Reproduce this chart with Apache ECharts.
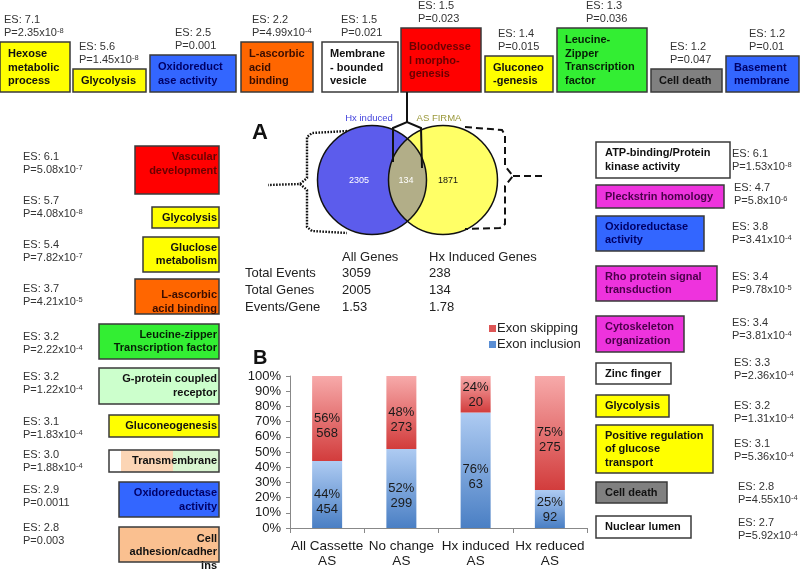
<!DOCTYPE html>
<html><head><meta charset="utf-8">
<script src="https://cdn.jsdelivr.net/npm/echarts@6/dist/echarts.min.js"></script>
<style>html,body{margin:0;padding:0;background:#fff}#c{width:800px;height:569px}</style>
</head><body><div id="c"></div>
<script>
// ---------- data ----------
const categories = ['All Cassette\nAS', 'No change\nAS', 'Hx induced\nAS', 'Hx reduced\nAS'];
const inclusionPct = [44, 52, 76, 25];
const skippingPct = [56, 48, 24, 75];
const inclusionCount = [454, 299, 63, 92];
const skippingCount = [568, 273, 20, 275];
const seriesNames = ['Exon skipping', 'Exon inclusion'];

const vennSets = ['Hx induced', 'AS FIRMA'];
const vennCounts = [2305, 134, 1871];

const tableHeaders = ['All Genes', 'Hx Induced Genes'];
const tableRows = ['Total Events', 'Total Genes', 'Events/Gene'];
const allGenesCol = ['3059', '2005', '1.53'];
const hxGenesCol = ['238', '134', '1.78'];

const topTerms = ['Hexose\nmetabolic\nprocess', 'Glycolysis', 'Oxidoreduct\nase activity', 'L-ascorbic\nacid\nbinding', 'Membrane\n- bounded\nvesicle', 'Bloodvesse\nl morpho-\ngenesis', 'Gluconeo\n-genesis', 'Leucine-\nZipper\nTranscription\nfactor', 'Cell death', 'Basement\nmembrane'];
const topES = ['7.1', '5.6', '2.5', '2.2', '1.5', '1.5', '1.4', '1.3', '1.2', '1.2'];
const topP = ['2.35x10^-8', '1.45x10^-8', '0.001', '4.99x10^-4', '0.021', '0.023', '0.015', '0.036', '0.047', '0.01'];

const leftTerms = ['Vascular\ndevelopment', 'Glycolysis', 'Gluclose\nmetabolism', 'L-ascorbic\nacid binding', 'Leucine-zipper\nTranscription factor', 'G-protein coupled\nreceptor', 'Gluconeogenesis', 'Transmembrane', 'Oxidoreductase\nactivity', 'Cell\nadhesion/cadher\nins'];
const leftES = ['6.1', '5.7', '5.4', '3.7', '3.2', '3.2', '3.1', '3.0', '2.9', '2.8'];
const leftP = ['5.08x10^-7', '4.08x10^-8', '7.82x10^-7', '4.21x10^-5', '2.22x10^-4', '1.22x10^-4', '1.83x10^-4', '1.88x10^-4', '0.0011', '0.003'];

const rightTerms = ['ATP-binding/Protein\nkinase activity', 'Pleckstrin homology', 'Oxidoreductase\nactivity', 'Rho protein signal\ntransduction', 'Cytoskeleton\norganization', 'Zinc finger', 'Glycolysis', 'Positive regulation\nof glucose\ntransport', 'Cell death', 'Nuclear lumen'];
const rightES = ['6.1', '4.7', '3.8', '3.4', '3.4', '3.3', '3.2', '3.1', '2.8', '2.7'];
const rightP = ['1.53x10^-8', '5.8x10^-6', '3.41x10^-4', '9.78x10^-5', '3.81x10^-4', '2.36x10^-4', '1.31x10^-4', '5.36x10^-4', '4.55x10^-4', '5.92x10^-4'];

// ---------- layout / styles ----------
const FF = 'Liberation Sans, Arial, Helvetica, sans-serif';
const C = {
  yellow: ['#ffff00', '#111'], blue: ['#3366ff', '#000066'], orange: ['#ff6600', '#3a0d00'],
  white: ['#ffffff', '#111'], red: ['#ff0000', '#6a0000'], green: ['#33ee33', '#062006'],
  grey: ['#808080', '#111'], lgreen: ['#ccffcc', '#111'], peach: ['#fac090', '#111'],
  magenta: ['#ee33dd', '#4a004a']
};
// [x1, x2, y1, y2, colour, esX]
const topLayout = [
  [0, 70, 42, 92, 'yellow', 4], [73, 146, 69, 92, 'yellow', 79], [150, 236, 55, 92, 'blue', 175],
  [241, 313, 42, 92, 'orange', 252], [322, 398, 42, 92, 'white', 341], [401, 481, 28, 92, 'red', 418],
  [485, 553, 56, 92, 'yellow', 498], [557, 647, 28, 92, 'green', 586], [651, 722, 69, 92, 'grey', 670],
  [726, 799, 56, 92, 'blue', 749]
];
// [x1, y1, y2, colour, textCenterY, esY]
const leftLayout = [
  [135, 146, 194, 'red', 164, 157], [152, 207, 228, 'yellow', 217.5, 201], [143, 237, 272, 'yellow', 254.5, 245],
  [135, 279, 314, 'orange', 302, 289], [99, 324, 359, 'green', 341.5, 337], [99, 368, 404, 'lgreen', 386, 377],
  [109, 415, 437, 'yellow', 426, 422], [109, 450, 472, 'trans', 461, 455], [119, 482, 517, 'blue', 500, 490],
  [119, 527, 562, 'peach', 552, 528]
];
// [x2, y1, y2, colour, esX, esY]
const rightLayout = [
  [730, 142, 178, 'white', 732, 154], [724, 185, 208, 'magenta', 734, 188], [704, 216, 251, 'blue', 732, 227],
  [717, 266, 301, 'magenta', 732, 277], [684, 316, 352, 'magenta', 732, 323], [671, 363, 384, 'white', 734, 363],
  [669, 395, 417, 'yellow', 734, 406], [713, 425, 473, 'yellow', 734, 444], [667, 482, 503, 'grey', 738, 487],
  [691, 516, 538, 'white', 738, 523]
];

const G = [];
function rect(x1, y1, x2, y2, fill, stroke) {
  G.push({ type: 'rect', shape: { x: x1, y: y1, width: x2 - x1, height: y2 - y1 },
    style: { fill: fill, stroke: stroke || 'none', lineWidth: 1.5 } });
}
function txt(x, y, text, o) {
  o = o || {};
  G.push({ type: 'text', x: x, y: y, z: 10, style: {
    text: text, fill: o.color || '#222', font: (o.bold ? 'bold ' : '') + (o.size || 11) + 'px ' + FF,
    fontSize: o.size || 11, fontWeight: o.bold ? 'bold' : 'normal', fontFamily: FF,
    align: o.align || 'left', textAlign: o.align || 'left',
    verticalAlign: o.va || 'middle', textVerticalAlign: o.va || 'middle',
    lineHeight: o.lh || 13.5
  } });
}
function pRich(x, y, p) {
  const m = p.match(/^(.*x10)\^(-?\d+)$/);
  const text = m ? '{n|P=' + m[1] + '}{s|' + m[2] + '}' : '{n|P=' + p + '}';
  G.push({ type: 'text', x: x, y: y, z: 10, style: {
    text: text, align: 'left', textAlign: 'left', verticalAlign: 'middle', textVerticalAlign: 'middle',
    rich: {
      n: { fontSize: 11, fontFamily: FF, fill: '#333', lineHeight: 13 },
      s: { fontSize: 7.5, fontFamily: FF, fill: '#333', lineHeight: 9, verticalAlign: 'top' }
    }
  } });
}
function esBlock(x, yES, es, p) {
  txt(x, yES, 'ES: ' + es, { color: '#333', size: 11 });
  pRich(x, yES + 13, p);
}

// top row
topLayout.forEach((L, i) => {
  const col = C[L[4]];
  rect(L[0], L[2], L[1], L[3], col[0], '#3a3a3a');
  txt(L[0] + 8, (L[2] + L[3]) / 2 + 0.5, topTerms[i], { bold: true, color: col[1] });
  esBlock(L[5], L[2] - 22, topES[i], topP[i]);
});
// left column
leftLayout.forEach((L, i) => {
  if (L[3] === 'trans') {
    rect(L[0], L[1], 219, L[2], '#ffffff');
    rect(121, L[1], 173, L[2], '#fcd5b5');
    rect(173, L[1], 219, L[2], '#d8f5d0');
    rect(L[0], L[1], 219, L[2], 'none', '#3a3a3a');
    txt(217, L[4], leftTerms[i], { bold: true, align: 'right', color: '#111' });
  } else {
    const col = C[L[3]];
    rect(L[0], L[1], 219, L[2], col[0], '#3a3a3a');
    txt(217, L[4], leftTerms[i], { bold: true, align: 'right', color: col[1] });
  }
  esBlock(23, L[5], leftES[i], leftP[i]);
});
// right column
rightLayout.forEach((L, i) => {
  const col = C[L[3]];
  rect(596, L[1], L[0], L[2], col[0], '#3a3a3a');
  txt(605, (L[1] + L[2]) / 2, rightTerms[i], { bold: true, color: col[1] });
  esBlock(L[4], L[5], rightES[i], rightP[i]);
});

// Venn
const c1 = [372, 180], c2 = [443, 180], R = 54.5;
G.push({ type: 'circle', shape: { cx: c1[0], cy: c1[1], r: R }, style: { fill: '#5c5cec' } });
G.push({ type: 'circle', shape: { cx: c2[0], cy: c2[1], r: R }, style: { fill: '#ffff66' } });
(function () {
  const d = c2[0] - c1[0];
  const th = Math.acos((d / 2) / R);
  const pts = [];
  const N = 40;
  for (let k = 0; k <= N; k++) {
    const a = -th + 2 * th * k / N;
    pts.push([c1[0] + R * Math.cos(a), c1[1] + R * Math.sin(a)]);
  }
  for (let k = 0; k <= N; k++) {
    const a = Math.PI + th - 2 * th * k / N;
    pts.push([c2[0] + R * Math.cos(a), c2[1] + R * Math.sin(a)]);
  }
  G.push({ type: 'polygon', shape: { points: pts }, style: { fill: '#b2ae88' } });
})();
G.push({ type: 'circle', shape: { cx: c1[0], cy: c1[1], r: R }, style: { fill: 'none', stroke: '#111', lineWidth: 1.5 } });
G.push({ type: 'circle', shape: { cx: c2[0], cy: c2[1], r: R }, style: { fill: 'none', stroke: '#111', lineWidth: 1.5 } });
txt(359, 181, String(vennCounts[0]), { size: 9, color: '#fff', align: 'center' });
txt(406, 181, String(vennCounts[1]), { size: 9, color: '#fff', align: 'center' });
txt(448, 181, String(vennCounts[2]), { size: 9, color: '#111', align: 'center' });
txt(369, 118, vennSets[0], { size: 9.5, color: '#4444dd', align: 'center' });
txt(439, 118, vennSets[1], { size: 9.5, color: '#9a983a', align: 'center' });
txt(252, 133, 'A', { size: 22, bold: true, color: '#111' });

// brackets
function poly(pts, dash, w) {
  G.push({ type: 'polyline', shape: { points: pts },
    style: { stroke: '#111', lineWidth: w || 2, fill: 'none', lineDash: dash || null } });
}
poly([[347, 131], [312, 133], [307, 137], [307, 178], [300, 184], [268, 185]], [1.6, 1.4], 2.4);
poly([[300, 184], [307, 190], [307, 227], [312, 231], [347, 233]], [1.6, 1.4], 2.4);
poly([[465, 127], [502, 130], [505, 135], [505, 166], [513, 176], [505, 186], [505, 224], [500, 228], [465, 229]], [7, 4], 2);
poly([[513, 176], [545, 176]], [7, 4], 2);
poly([[407, 92], [407, 122]], null, 2);
poly([[393, 162], [393, 128], [407, 122], [421, 128], [422, 168]], null, 2);

// table
txt(342, 257, tableHeaders[0], { size: 13, color: '#222' });
txt(429, 257, tableHeaders[1], { size: 13, color: '#222' });
tableRows.forEach((r, i) => {
  const y = 273 + i * 17;
  txt(245, y, r, { size: 13, color: '#222' });
  txt(342, y, allGenesCol[i], { size: 13, color: '#222' });
  txt(429, y, hxGenesCol[i], { size: 13, color: '#222' });
});
txt(253, 358, 'B', { size: 20, bold: true, color: '#111' });

// ---------- chart ----------
function grad(top, bottom) {
  return new echarts.graphic.LinearGradient(0, 0, 0, 1, [{ offset: 0, color: top }, { offset: 1, color: bottom }]);
}
const redGrad = grad('#f7aaaa', '#d23c3c');
const blueGrad = grad('#aecbf2', '#4a7fc4');
function lbl(pct, cnt) {
  return {
    show: true, position: 'inside', fontSize: 13, fontFamily: FF, color: '#1a1a1a', lineHeight: 15,
    formatter: p => pct[p.dataIndex] + '%\n' + cnt[p.dataIndex]
  };
}
function items(vals) {
  return vals.map(v => ({ value: v, label: { offset: [0, v > 40 ? 7 : 1] } }));
}
const chart = echarts.init(document.getElementById('c'), null, { renderer: 'canvas' });
chart.setOption({
  animation: false,
  backgroundColor: '#fff',
  textStyle: { fontFamily: FF },
  grid: { left: 290, right: 213, top: 376, bottom: 40, containLabel: false },
  legend: {
    orient: 'vertical', left: 489, top: 322, itemWidth: 7, itemHeight: 7, itemGap: 3, padding: 0,
    icon: 'rect', textStyle: { fontSize: 13, color: '#222', fontFamily: FF, padding: [0, 0, 0, -4] },
    data: [
      { name: seriesNames[0], itemStyle: { color: '#dd5555' } },
      { name: seriesNames[1], itemStyle: { color: '#5a8ed4' } }
    ]
  },
  xAxis: {
    type: 'category', data: categories,
    axisLine: { lineStyle: { color: '#888' } },
    axisTick: { show: true, length: 5, lineStyle: { color: '#888' } },
    axisLabel: { fontSize: 13.5, color: '#1a1a1a', lineHeight: 15, margin: 11, fontFamily: FF, interval: 0 }
  },
  yAxis: {
    type: 'value', min: 0, max: 100, interval: 10,
    axisLine: { show: true, lineStyle: { color: '#888' } },
    axisTick: { show: true, length: 4, lineStyle: { color: '#888' } },
    splitLine: { show: false },
    axisLabel: { formatter: '{value}%', fontSize: 13, color: '#1a1a1a', margin: 9, fontFamily: FF }
  },
  series: [
    { name: seriesNames[1], type: 'bar', stack: 'all', barWidth: 30, data: items(inclusionPct),
      itemStyle: { color: blueGrad }, label: lbl(inclusionPct, inclusionCount) },
    { name: seriesNames[0], type: 'bar', stack: 'all', barWidth: 30, data: items(skippingPct),
      itemStyle: { color: redGrad }, label: lbl(skippingPct, skippingCount) }
  ],
  graphic: { elements: G }
});
</script></body></html>
